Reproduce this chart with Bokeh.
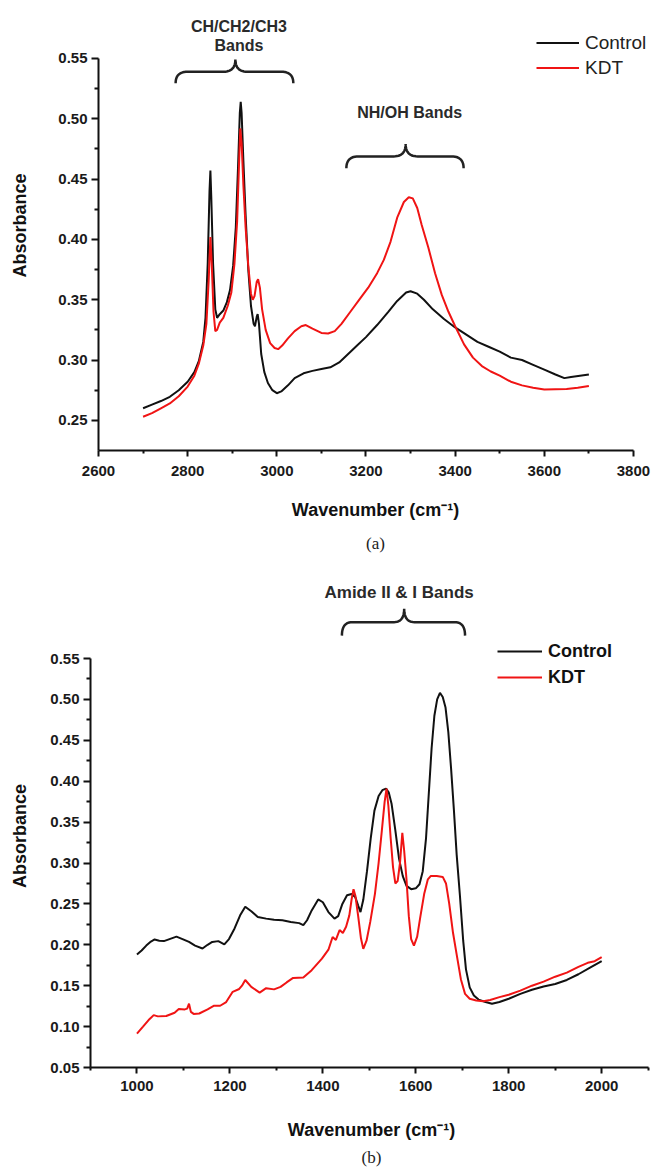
import numpy as np
from bokeh.plotting import figure
from bokeh.models import Range1d, FixedTicker, Label, Legend, LegendItem, Title, NumeralTickFormatter
from bokeh.layouts import column
from bokeh.embed import file_html
from bokeh.resources import INLINE

# ---------------- data: panel (a) ----------------
wn_ctrl_a = [2700, 2720, 2740, 2760, 2780, 2800, 2815, 2825, 2835, 2840, 2845, 2849, 2851, 2853, 2857,
             2862, 2866, 2872, 2880, 2888, 2895, 2902, 2908, 2913, 2917, 2919, 2921, 2925, 2930, 2936,
             2942, 2948, 2951, 2955, 2957, 2960, 2965, 2972, 2980, 2990, 3000, 3010, 3025, 3040, 3060,
             3080, 3100, 3120, 3140, 3160, 3180, 3200, 3225, 3250, 3270, 3290, 3300, 3315, 3330, 3350,
             3375, 3400, 3425, 3450, 3475, 3500, 3525, 3550, 3575, 3600, 3625, 3645, 3660, 3680, 3700]
abs_ctrl_a = [0.260, 0.263, 0.266, 0.2695, 0.275, 0.282, 0.290, 0.299, 0.315, 0.335, 0.380, 0.440, 0.457, 0.435, 0.380,
              0.342, 0.335, 0.338, 0.341, 0.348, 0.358, 0.378, 0.410, 0.460, 0.505, 0.514, 0.505, 0.465, 0.420, 0.375,
              0.345, 0.330, 0.328, 0.336, 0.338, 0.330, 0.305, 0.290, 0.281, 0.275, 0.2725, 0.274, 0.279, 0.285, 0.289,
              0.291, 0.2925, 0.294, 0.298, 0.305, 0.312, 0.319, 0.329, 0.340, 0.349, 0.356, 0.357, 0.355, 0.350, 0.342,
              0.334, 0.327, 0.321, 0.315, 0.311, 0.307, 0.302, 0.300, 0.296, 0.292, 0.288, 0.285, 0.286, 0.287, 0.288]

wn_kdt_a = [2700, 2720, 2740, 2760, 2780, 2800, 2815, 2825, 2835, 2842, 2847, 2851, 2854, 2858, 2862,
            2866, 2872, 2880, 2890, 2898, 2905, 2911, 2915, 2918, 2921, 2925, 2930, 2936, 2942, 2946,
            2950, 2955, 2958, 2962, 2967, 2975, 2985, 2995, 3003, 3012, 3025, 3040, 3055, 3065, 3080,
            3100, 3115, 3130, 3145, 3165, 3185, 3205, 3225, 3240, 3255, 3270, 3285, 3296, 3305, 3315,
            3325, 3340, 3355, 3370, 3385, 3400, 3420, 3440, 3460, 3480, 3500, 3525, 3550, 3575, 3600,
            3625, 3650, 3675, 3700]
abs_kdt_a = [0.253, 0.256, 0.260, 0.264, 0.270, 0.278, 0.287, 0.297, 0.312, 0.330, 0.365, 0.402, 0.380, 0.340, 0.324,
             0.325, 0.331, 0.335, 0.345, 0.356, 0.380, 0.415, 0.460, 0.492, 0.480, 0.445, 0.410, 0.378, 0.355, 0.350,
             0.353, 0.365, 0.367, 0.360, 0.342, 0.325, 0.314, 0.310, 0.309, 0.312, 0.318, 0.324, 0.328, 0.329, 0.326,
             0.3225, 0.322, 0.324, 0.330, 0.340, 0.350, 0.360, 0.372, 0.383, 0.398, 0.418, 0.431, 0.435, 0.434, 0.426,
             0.412, 0.393, 0.372, 0.354, 0.340, 0.328, 0.313, 0.302, 0.295, 0.2905, 0.287, 0.282, 0.279, 0.277, 0.2755,
             0.2758, 0.276, 0.277, 0.2785]

x_ticks_a = [2600, 2800, 3000, 3200, 3400, 3600, 3800]
x_minor_a = [2700, 2900, 3100, 3300, 3500, 3700]
y_ticks_a = [0.25, 0.30, 0.35, 0.40, 0.45, 0.50, 0.55]
y_minor_a = [0.275, 0.325, 0.375, 0.425, 0.475, 0.525]

# band braces (a): start, end, centre wavenumbers
brace_ch = [2773, 3037, 2907]
brace_nh = [3156, 3419, 3289]

# ---------------- data: panel (b) ----------------
wn_ctrl_b = [1000, 1010, 1020, 1030, 1038, 1048, 1058, 1070, 1085, 1098, 1112, 1125, 1141, 1152, 1162,
             1175, 1188, 1198, 1210, 1222, 1233, 1246, 1260, 1278, 1295, 1313, 1331, 1349, 1358, 1366,
             1376, 1390, 1400, 1412, 1425, 1433, 1442, 1452, 1462, 1470, 1476, 1481, 1487, 1495, 1503,
             1511, 1520, 1528, 1536, 1542, 1548, 1556, 1564, 1572, 1580, 1590, 1600, 1608, 1615, 1622,
             1628, 1634, 1640, 1646, 1652, 1658, 1664, 1670, 1676, 1682, 1688, 1695, 1702, 1708, 1716,
             1725, 1735, 1750, 1764, 1780, 1800, 1825, 1850, 1875, 1900, 1925, 1950, 1975, 2000]
abs_ctrl_b = [0.188, 0.193, 0.199, 0.204, 0.2065, 0.205, 0.2045, 0.207, 0.210, 0.207, 0.2035, 0.199, 0.1955, 0.200, 0.2035,
              0.2045, 0.2005, 0.207, 0.220, 0.236, 0.2465, 0.241, 0.234, 0.232, 0.2305, 0.2300, 0.228, 0.2265, 0.224, 0.230,
              0.242, 0.2555, 0.252, 0.240, 0.232, 0.235, 0.250, 0.2605, 0.262, 0.258, 0.248, 0.240, 0.255, 0.290, 0.330,
              0.364, 0.382, 0.389, 0.391, 0.386, 0.372, 0.340, 0.305, 0.284, 0.272, 0.268, 0.269, 0.274, 0.290, 0.330,
              0.385, 0.440, 0.480, 0.500, 0.508, 0.503, 0.490, 0.460, 0.415, 0.365, 0.310, 0.260, 0.205, 0.170, 0.148,
              0.138, 0.133, 0.130, 0.128, 0.130, 0.134, 0.140, 0.145, 0.149, 0.152, 0.157, 0.164, 0.172, 0.180]

wn_kdt_b = [1000, 1013, 1025, 1036, 1045, 1063, 1081, 1090, 1103, 1108, 1112, 1116, 1122, 1134, 1152,
            1166, 1179, 1192, 1206, 1220, 1226, 1233, 1246, 1264, 1278, 1295, 1309, 1322, 1336, 1358,
            1376, 1398, 1412, 1421, 1428, 1436, 1443, 1450, 1457, 1462, 1466, 1470, 1476, 1482, 1487,
            1494, 1502, 1512, 1520, 1527, 1533, 1537, 1541, 1546, 1551, 1556, 1561, 1566, 1571, 1575,
            1580, 1585, 1590, 1596, 1603, 1610, 1618, 1626, 1632, 1645, 1658, 1665, 1672, 1680, 1688,
            1697, 1706, 1716, 1730, 1745, 1760, 1780, 1800, 1825, 1850, 1875, 1900, 1925, 1950, 1970,
            1985, 2000]
abs_kdt_b = [0.0915, 0.100, 0.108, 0.114, 0.1125, 0.113, 0.117, 0.1215, 0.121, 0.122, 0.128, 0.118, 0.1155, 0.116, 0.121,
             0.1255, 0.1255, 0.130, 0.1425, 0.146, 0.150, 0.157, 0.1485, 0.1415, 0.147, 0.1455, 0.1485, 0.154, 0.1595, 0.160,
             0.169, 0.183, 0.194, 0.2095, 0.206, 0.218, 0.2145, 0.222, 0.236, 0.256, 0.268, 0.260, 0.235, 0.208, 0.195,
             0.205, 0.228, 0.262, 0.300, 0.340, 0.375, 0.391, 0.370, 0.330, 0.295, 0.275, 0.278, 0.300, 0.337, 0.315,
             0.280, 0.235, 0.207, 0.199, 0.210, 0.235, 0.262, 0.280, 0.284, 0.284, 0.283, 0.275, 0.250, 0.215, 0.188,
             0.158, 0.140, 0.134, 0.132, 0.131, 0.1325, 0.136, 0.139, 0.144, 0.150, 0.155, 0.161, 0.166, 0.173, 0.178,
             0.180, 0.185]

x_ticks_b = [1000, 1200, 1400, 1600, 1800, 2000]
x_minor_b = [900, 1100, 1300, 1500, 1700, 1900, 2100]
y_ticks_b = [0.05, 0.10, 0.15, 0.20, 0.25, 0.30, 0.35, 0.40, 0.45, 0.50, 0.55]
y_minor_b = [0.075, 0.125, 0.175, 0.225, 0.275, 0.325, 0.375, 0.425, 0.475, 0.525]

brace_amide = [1441, 1706, 1575]

series_names = ["Control", "KDT"]
series_colors = ["#111111", "#f01414"]

FONT = "Liberation Sans"


def brace_path(x0, x1, xc, y_end, y_bar, y_tip, rx):
    t = np.linspace(0.0, 1.0, 14)

    def qb(p0, p1, p2):
        xs = (1 - t) ** 2 * p0[0] + 2 * (1 - t) * t * p1[0] + t ** 2 * p2[0]
        ys = (1 - t) ** 2 * p0[1] + 2 * (1 - t) * t * p1[1] + t ** 2 * p2[1]
        return xs, ys

    a = qb((x0, y_end), (x0, y_bar), (x0 + rx, y_bar))
    b = qb((xc - rx, y_bar), (xc, y_bar), (xc, y_tip))
    c = qb((xc, y_tip), (xc, y_bar), (xc + rx, y_bar))
    d = qb((x1 - rx, y_bar), (x1, y_bar), (x1, y_end))
    xs = np.concatenate([a[0], b[0], c[0], d[0]])
    ys = np.concatenate([a[1], b[1], c[1], d[1]])
    return xs, ys


def style_axes(p, xt, xm, yt, ym, xb, yb, x_lab_stand, x_axlab_stand, y_axlab_stand):
    p.xaxis.ticker = FixedTicker(ticks=xt, minor_ticks=xm)
    p.yaxis.ticker = FixedTicker(ticks=yt, minor_ticks=ym)
    p.yaxis.formatter = NumeralTickFormatter(format="0.00")
    p.xaxis.bounds = xb
    p.yaxis.bounds = yb
    for ax in (p.xaxis, p.yaxis):
        ax.axis_line_width = 2
        ax.axis_line_color = "#111111"
        ax.major_tick_line_width = 2
        ax.minor_tick_line_width = 2
        ax.major_tick_line_color = "#111111"
        ax.minor_tick_line_color = "#111111"
        ax.major_tick_in = 0
        ax.minor_tick_in = 0
        ax.major_label_text_font = FONT
        ax.major_label_text_font_style = "bold"
        ax.major_label_text_font_size = "15px"
        ax.major_label_text_color = "#1a1a1a"
        ax.axis_label_text_font = FONT
        ax.axis_label_text_font_style = "bold"
        ax.axis_label_text_font_size = "18px"
        ax.axis_label_text_color = "#111111"
    p.xaxis.major_tick_out = 6
    p.xaxis.minor_tick_out = 3
    p.yaxis.major_tick_out = 7
    p.yaxis.minor_tick_out = 4
    p.xaxis.major_label_standoff = x_lab_stand
    p.yaxis.major_label_standoff = 4
    p.xaxis.axis_label_standoff = x_axlab_stand
    p.yaxis.axis_label_standoff = y_axlab_stand
    p.xaxis.axis_label = "Wavenumber (cm\u207b\u00b9)"
    p.yaxis.axis_label = "Absorbance"
    p.grid.visible = False
    p.outline_line_color = None
    p.background_fill_color = "white"
    p.border_fill_color = "white"


def add_brace(p, spec, y_end, y_bar, y_tip, rx):
    xs, ys = brace_path(spec[0], spec[1], spec[2], y_end, y_bar, y_tip, rx)
    p.line(xs, ys, line_color="#222222", line_width=2.5)


def add_text(p, x, y, txt, size):
    p.add_layout(Label(x=x, y=y, text=txt, text_align="center", text_baseline="middle",
                       text_font=FONT, text_font_style="bold", text_font_size=size,
                       text_color="#2a2a2a"))


# ---------------- panel (a) ----------------
pa = figure(width=652, height=566, output_backend="svg", toolbar_location=None,
            x_range=Range1d(2600, 2600 + 554 / 0.4458), y_range=Range1d(0.225, 0.225 + 450 / 1206.3),
            min_border_left=98, min_border_right=0, min_border_top=0, min_border_bottom=116)
pa.frame_align = False
style_axes(pa, x_ticks_a, x_minor_a, y_ticks_a, y_minor_a, (2600, 3800), (0.225, 0.55), 9, 21, 25)

ra1 = pa.line(wn_ctrl_a, abs_ctrl_a, line_color=series_colors[0], line_width=2)
ra2 = pa.line(wn_kdt_a, abs_kdt_a, line_color=series_colors[1], line_width=2)

add_brace(pa, brace_ch, 0.5295, 0.539, 0.549, 27)
add_brace(pa, brace_nh, 0.459, 0.4688, 0.479, 27)
add_text(pa, 2915, 0.5761, "CH/CH2/CH3", "16px")
add_text(pa, 2915, 0.5608, "Bands", "16px")
add_text(pa, 3298, 0.5052, "NH/OH Bands", "16px")

leg_a = Legend(items=[LegendItem(label=series_names[0], renderers=[ra1]),
                      LegendItem(label=series_names[1], renderers=[ra2])],
               location=(438, 370), padding=0, margin=0, spacing=0,
               glyph_width=43, glyph_height=25, label_height=25, label_standoff=6,
               label_text_font=FONT, label_text_font_size="19px", label_text_color="#222222",
               border_line_color=None, background_fill_alpha=0)
pa.add_layout(leg_a)
pa.add_layout(Title(text="(a)", align="center", text_font="Liberation Serif", text_font_size="17px",
                    text_font_style="normal", text_color="#222222", standoff=18), "below")

# ---------------- panel (b) ----------------
pb = figure(width=652, height=610, output_backend="svg", toolbar_location=None,
            x_range=Range1d(900, 900 + 562 / 0.4647), y_range=Range1d(0.05, 0.05 + 463 / 818.0),
            min_border_left=90, min_border_right=0, min_border_top=38, min_border_bottom=109)
pb.frame_align = False
style_axes(pb, x_ticks_b, x_minor_b, y_ticks_b, y_minor_b, (900, 2100), (0.05, 0.55), 7, 26, 17)

rb1 = pb.line(wn_ctrl_b, abs_ctrl_b, line_color=series_colors[0], line_width=2)
rb2 = pb.line(wn_kdt_b, abs_kdt_b, line_color=series_colors[1], line_width=2)

add_brace(pb, brace_amide, 0.578, 0.5944, 0.6108, 22)
pb.add_layout(Title(text="Amide II & I Bands", align="left", offset=234, text_font=FONT,
                    text_font_size="17px", text_font_style="bold", text_color="#2a2a2a",
                    standoff=5), "above")

leg_b = Legend(items=[LegendItem(label=series_names[0], renderers=[rb1]),
                      LegendItem(label=series_names[1], renderers=[rb2])],
               location=(407, 377), padding=0, margin=0, spacing=0,
               glyph_width=45, glyph_height=26, label_height=26, label_standoff=6,
               label_text_font=FONT, label_text_font_style="bold", label_text_font_size="18px",
               label_text_color="#111111", border_line_color=None, background_fill_alpha=0)
pb.add_layout(leg_b)
pb.add_layout(Title(text="(b)", align="center", text_font="Liberation Serif", text_font_size="17px",
                    text_font_style="normal", text_color="#222222", standoff=6), "below")

layout = column(pa, pb, spacing=0)
open("out.html", "w").write(file_html(layout, INLINE))
